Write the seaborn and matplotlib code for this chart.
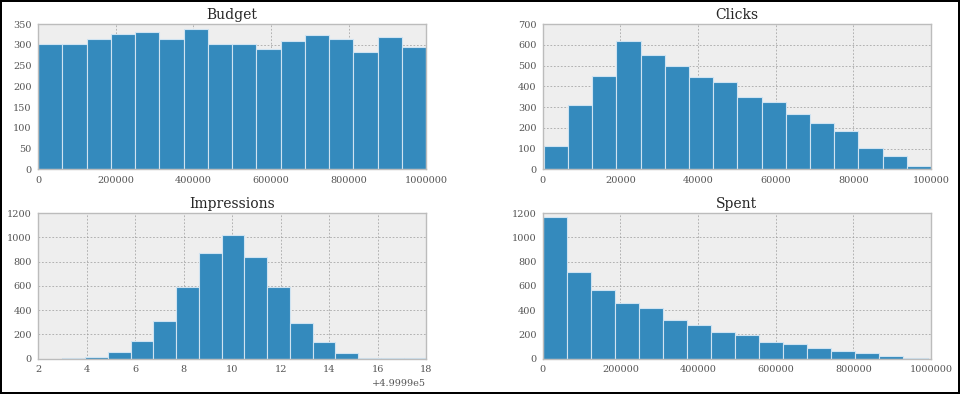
"""
Histogram grid of ad campaign columns (Budget, Clicks, Impressions, Spent),
drawn with seaborn in a bmh-like look.
"""

import numpy as np
import pandas as pd
import matplotlib
matplotlib.use("Agg")
import matplotlib.pyplot as plt
from matplotlib.ticker import ScalarFormatter
import seaborn as sns

# ---- data (16 bins per column) ----
titles = ["Budget", "Clicks", "Impressions", "Spent"]

budget_range = (0, 1000000)
budget_counts = [303, 303, 313, 327, 332, 313, 337, 303, 303, 289, 308, 323, 313, 282, 320, 294]

clicks_range = (250, 100000)
clicks_counts = [114, 308, 448, 620, 549, 499, 443, 419, 347, 323, 265, 226, 183, 101, 67, 19]

impressions_range = (499993, 500008)
impressions_counts = [2, 11, 52, 142, 307, 594, 871, 1019, 841, 589, 296, 134, 44, 5, 4, 1]

spent_range = (0, 991000)
spent_counts = [1170, 713, 564, 457, 416, 317, 275, 217, 193, 135, 118, 91, 61, 44, 19, 3]

x_limits = [(0, 1000000), (0, 100000), (499992, 500008), (0, 1000000)]
y_limits = [(0, 350), (0, 700), (0, 1200), (0, 1200)]
x_offsets = [False, False, 499990, False]

ranges = [budget_range, clicks_range, impressions_range, spent_range]
counts = [budget_counts, clicks_counts, impressions_counts, spent_counts]

sns.set_style("whitegrid", {
    "axes.facecolor": "#eeeeee",
    "axes.edgecolor": "#bcbcbc",
    "grid.color": "#a0a0a0",
    "grid.linestyle": "--",
})
plt.rcParams["font.family"] = ["DejaVu Serif"]

fig, axes = plt.subplots(2, 2, figsize=(9.6, 3.94), dpi=100)
fig.subplots_adjust(left=0.0396, right=0.9698, bottom=0.090, top=0.939,
                    wspace=0.30, hspace=0.30)
fig.patch.set_edgecolor("black")
fig.patch.set_linewidth(1.5)

for ax, title, (lo, hi), cnt, xl, yl, off in zip(axes.flat, titles, ranges, counts,
                                                 x_limits, y_limits, x_offsets):
    n_bins = len(cnt)
    width = (hi - lo) / n_bins
    edges = lo + width * np.arange(n_bins + 1)
    df = pd.DataFrame({"value": (edges[:-1] + edges[1:]) / 2, "count": cnt})
    sns.histplot(data=df, x="value", weights="count", binwidth=width,
                 binrange=(lo, hi), ax=ax, color="#348ABD", alpha=1.0,
                 edgecolor="#cfe3f1", linewidth=0.8)
    ax.set_xlim(xl)
    ax.set_ylim(yl)
    ax.set_title(title, fontsize=10, pad=3.5)
    ax.set_xlabel("")
    ax.set_ylabel("")

    fmt = ScalarFormatter(useOffset=off)
    fmt.set_scientific(False)
    ax.xaxis.set_major_formatter(fmt)

    ax.grid(True, linestyle=(0, (2.5, 2.5)), linewidth=0.5, color="#9a9a9a")
    ax.set_axisbelow(True)
    ax.tick_params(axis="both", length=0, labelsize=7, labelcolor="#555555")
    ax.tick_params(axis="x", pad=5)
    ax.tick_params(axis="y", pad=4.5)
    for s in ax.spines.values():
        s.set_color("#bcbcbc")
        s.set_linewidth(1.0)
    ax.xaxis.get_offset_text().set_fontsize(7)
    ax.xaxis.get_offset_text().set_color("#555555")

fig.savefig("out.png", dpi=100, facecolor="white",
            edgecolor=fig.get_edgecolor())
